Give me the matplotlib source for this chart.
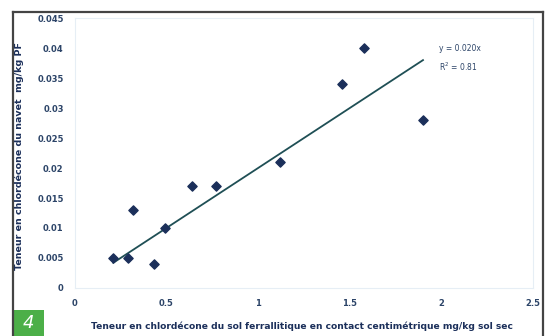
import matplotlib.pyplot as plt
from matplotlib.patches import Rectangle
from matplotlib.lines import Line2D

# teneur sol (mg/kg sol sec) / teneur navet (mg/kg PF)
sol = [0.21, 0.29, 0.32, 0.43, 0.49, 0.64, 0.77, 1.12, 1.46, 1.58, 1.90]
navet = [0.005, 0.005, 0.013, 0.004, 0.010, 0.017, 0.017, 0.021, 0.034, 0.040, 0.028]
pente = 0.020
r2 = 0.81
xticks = [0, 0.5, 1, 1.5, 2, 2.5]
xlabels = ['0', '0.5', '1', '1.5', '2', '2.5']
yticks = [0, 0.005, 0.01, 0.015, 0.02, 0.025, 0.03, 0.035, 0.04, 0.045]
ylabels = ['0', '0.005', '0.01', '0.015', '0.02', '0.025', '0.03', '0.035', '0.04', '0.045']

navy = '#1b2f5a'
txt = '#2c4468'

fig = plt.figure(figsize=(5.5, 3.36), dpi=100)
ax = fig.add_axes([0.136, 0.143, 0.833, 0.803])

ax.scatter(sol, navet, marker='D', s=22, color=navy, zorder=3)
xl = [min(sol), max(sol)]
ax.plot(xl, [pente * v for v in xl], color='#1f4f55', lw=1.3, zorder=2)
ax.text(1.985, 0.0383, 'y = %.3fx\nR$^2$ = %.2f' % (pente, r2), fontsize=5.5,
        color=txt, ha='left', va='center', linespacing=1.7)

ax.set_xlim(0, 2.5)
ax.set_ylim(0, 0.045)
ax.set_xticks(xticks)
ax.set_xticklabels(xlabels)
ax.set_yticks(yticks)
ax.set_yticklabels(ylabels)
ax.tick_params(length=0, labelsize=6, labelcolor=txt, pad=8)
for lab in ax.get_xticklabels() + ax.get_yticklabels():
    lab.set_fontweight('bold')
for s in ax.spines.values():
    s.set_color('#e6eef5')
    s.set_linewidth(0.8)

ax.set_ylabel('Teneur en chlordécone du navet  mg/kg PF', fontsize=6.8,
              fontweight='bold', color=navy)
ax.yaxis.set_label_coords(-0.11, 0.49)
ax.set_xlabel('Teneur en chlordécone du sol ferrallitique en contact centimétrique mg/kg sol sec',
              fontsize=6.6, fontweight='bold', color=navy)
ax.xaxis.set_label_coords(0.495, -0.125)

# cadre du document
W, H = 550, 336
fc = '#444444'
fig.add_artist(Line2D([12.5 / W, 12.5 / W], [0, 1 - 11.5 / H], color=fc, lw=1.6))
fig.add_artist(Line2D([12.5 / W, 543 / W], [1 - 11.5 / H, 1 - 11.5 / H], color=fc, lw=1.6))
fig.add_artist(Line2D([543 / W, 543 / W], [1 - 11.5 / H, 0], color=fc, lw=1.6))

# pastille verte
fig.add_artist(Rectangle((13 / W, 0), 31 / W, 26 / H, transform=fig.transFigure,
                         facecolor='#4caf48', edgecolor='none'))
fig.text(28.5 / W, 13 / H, '4', color='white', fontsize=13, style='italic',
         ha='center', va='center')

fig.savefig('out.png', dpi=100)
